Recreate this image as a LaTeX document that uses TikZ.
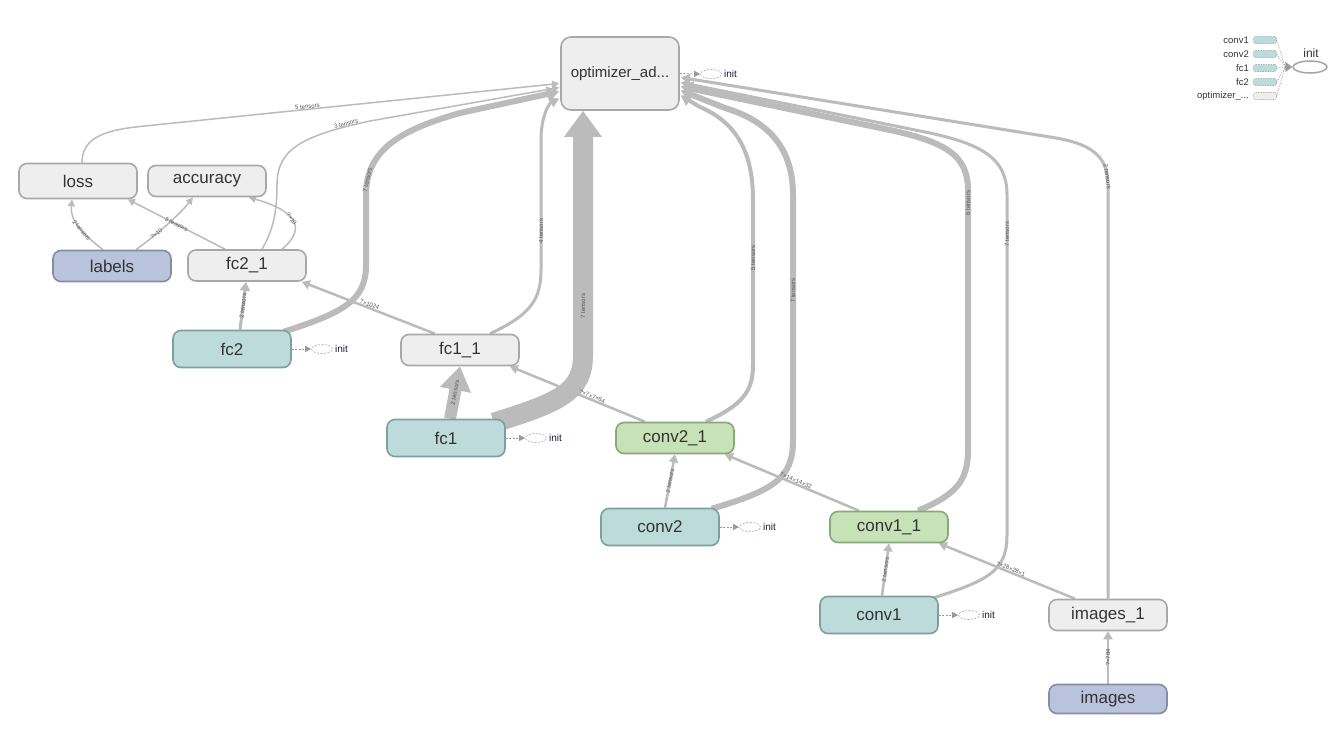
\documentclass[tikz,border=0pt]{standalone}
\usepackage{fontspec}
\setmainfont{Liberation Sans}
\usetikzlibrary{arrows.meta,calc,shapes.geometric,backgrounds}

\definecolor{opfill}{HTML}{EEEEEE}
\definecolor{opline}{HTML}{A8A8A8}
\definecolor{metafill}{HTML}{BDDBDB}
\definecolor{metaline}{HTML}{7F9E9E}
\definecolor{grnfill}{HTML}{C7E2B7}
\definecolor{grnline}{HTML}{88A77A}
\definecolor{bluefill}{HTML}{B9C3DC}
\definecolor{blueline}{HTML}{858DA6}
\definecolor{edgecol}{HTML}{BBBBBB}
\definecolor{txt}{HTML}{333333}
\definecolor{lbltxt}{HTML}{555555}
\definecolor{inittxt}{HTML}{1E1E3C}

\tikzset{
  box/.style={rounded corners=8pt, line width=1.6pt, minimum width=118pt,
    minimum height=31pt, inner sep=0pt, font=\fontsize{17}{17}\selectfont, text=txt},
  opnode/.style={box, fill=opfill, draw=opline},
  metanode/.style={box, fill=metafill, draw=metaline, minimum height=37pt},
  grnnode/.style={box, fill=grnfill, draw=grnline},
  bluenode/.style={box, fill=bluefill, draw=blueline},
  eA/.style={draw=edgecol, line width=1.5pt, -{Triangle[length=7pt,width=7pt]}},
  eB/.style={draw=edgecol, line width=2.5pt, -{Triangle[length=8pt,width=9pt]}},
  eC/.style={draw=edgecol, line width=3pt, -{Triangle[length=9pt,width=10pt]}},
  eD/.style={draw=edgecol, line width=4pt, -{Triangle[length=10pt,width=12pt]}},
  eE/.style={draw=edgecol, line width=6pt, -{Triangle[length=12pt,width=15pt]}},
  eF/.style={draw=edgecol, line width=12pt, -{Triangle[length=24pt,width=30pt]}},
  eG/.style={draw=edgecol, line width=20pt, -{Triangle[length=26pt,width=36pt]}},
  lbl/.style={font=\fontsize{6}{6}\selectfont, text=lbltxt, sloped, inner sep=1pt},
  initell/.style={ellipse, draw=black!30, line width=0.7pt, dash pattern=on 2pt off 1.5pt,
    minimum width=21pt, minimum height=9pt, inner sep=0pt},
  initarr/.style={draw=black!40, line width=0.8pt, dash pattern=on 2pt off 1.5pt,
    -{Triangle[length=6pt,width=6pt]}},
  inittext/.style={anchor=west, font=\fontsize{10}{10}\selectfont, text=inittxt, inner sep=0pt},
  legtext/.style={anchor=east, font=\fontsize{9.5}{9.5}\selectfont, text=txt, inner sep=0pt},
  legbox/.style={rounded corners=2pt, line width=0.6pt, dash pattern=on 1.5pt off 1pt,
    minimum width=23pt, minimum height=7pt, inner sep=0pt},
  legline/.style={draw=black!35, line width=0.8pt, dash pattern=on 1pt off 1.5pt},
}

\begin{document}
\begin{tikzpicture}[x=1pt,y=-1pt]
\useasboundingbox (0,0) rectangle (1341,750);

% ---- operation nodes
\node[opnode, minimum height=73pt, rounded corners=10pt, font=\fontsize{15}{15}\selectfont]
  (optA) at (620,73.5) {optimizer\_ad...};
\node[opnode, minimum height=35pt] (loss) at (78,181) {loss};
\node[opnode] (acc) at (207,181) {accuracy};
\node[bluenode] (labels) at (112,266) {labels};
\node[opnode] (fc2x) at (247,265.5) {fc2\_1};
\node[metanode] (fc2) at (232,349) {fc2};
\node[opnode] (fc1x) at (460,350) {fc1\_1};
\node[metanode] (fc1) at (446,438) {fc1};
\node[grnnode] (conv2x) at (675,438) {conv2\_1};
\node[metanode] (conv2) at (660,527) {conv2};
\node[grnnode] (conv1x) at (889,527) {conv1\_1};
\node[metanode] (conv1) at (879,615) {conv1};
\node[opnode] (imgx) at (1108,615) {images\_1};
\node[bluenode, minimum height=29pt] (img) at (1108,699) {images};

% ---- init markers beside the variable scopes
\foreach \n/\x/\y in {optA/711/74, fc2/322/349, fc1/536/438, conv2/750/527, conv1/969/615}{
  \node[initell] (\n init) at (\x,\y) {};
  \node[inittext] (\n initlbl) at ($(\n init.east)+(2,0)$) {init};
  \draw[initarr] (\n.east) -- (\n init.west);
}

% ---- legend of the init dependencies
\node[legtext] (lt1) at (1249,40) {conv1};
\node[legtext] (lt2) at (1249,54) {conv2};
\node[legtext] (lt3) at (1249,68) {fc1};
\node[legtext] (lt4) at (1249,82) {fc2};
\node[legtext] (lt5) at (1249,96) {optimizer\_...};
\node[legbox, fill=metafill, draw=metaline!70] (lb1) at (1265,40) {};
\node[legbox, fill=metafill, draw=metaline!70] (lb2) at (1265,54) {};
\node[legbox, fill=metafill, draw=metaline!70] (lb3) at (1265,68) {};
\node[legbox, fill=metafill, draw=metaline!70] (lb4) at (1265,82) {};
\node[legbox, fill=opfill, draw=opline!80] (lb5) at (1265,96) {};
\node[ellipse, draw=black!35, line width=1.5pt, minimum width=34pt, minimum height=12pt,
  inner sep=0pt] (leginit) at (1310,67) {};
\node[font=\fontsize{12}{12}\selectfont, text=txt, inner sep=0pt] (leginitlbl) at (1311,53) {init};
\coordinate (legtip) at (1285,67);
\foreach \i in {1,...,5}{ \draw[legline] (lb\i.east) -- (legtip); }
\draw[draw=black!40, line width=1pt, -{Triangle[length=7pt,width=10pt]}] (legtip) -- (leginit.west);

\begin{scope}[on background layer]
\fill[white] (0,0) rectangle (1341,750);

% ---- edges into the optimizer, left side
\draw[eA] ($(loss.north)+(4,0)$) .. controls (82,140) and (100,130.6) .. (140,126.5)
  -- node[lbl,pos=.4,above=-1pt]{5 tensors} ($(optA.west)+(-1,10)$);
\draw[eA] ($(fc2x.north)+(15,0)$) .. controls (272,232) and (277,215) .. (277,185)
  .. controls (277,150) and (300,136) .. node[lbl,pos=.88,above=-1pt]{3 tensors} (370,121)
  -- ($(optA.west)+(-1,14)$);
\draw[eE] ($(fc2.north east)+(-8,2)$) .. controls (345,312) and (366,300) .. (366,265)
  -- (366,195) .. controls (366,150) and (400,130) .. node[lbl,pos=.12]{7 tensors} (460,113)
  -- ($(optA.west)+(-1,18)$);
\draw[eC] ($(fc1x.north)+(30,0)$) .. controls (530,315) and (541,300) .. (541,270)
  -- node[lbl,pos=.3]{4 tensors} (541,140) .. controls (541,118) and (548,104) .. ($(optA.west)+(-1,25)$);
\draw[eG] ($(fc1.north east)+(-12,4)$) .. controls (560,402) and (583,392) .. (583,355)
  -- node[lbl,pos=.2]{7 tensors} ($(optA.south)+(-37,0)$);

% ---- edges into the optimizer, right side
\draw[eD] ($(conv2x.north)+(31,0)$) .. controls (742,405) and (753,392) .. (753,365)
  -- node[lbl,pos=.65]{5 tensors} (753,200) .. controls (753,150) and (735,122) .. (700,107)
  -- ($(optA.east)+(1,22)$);
\draw[eE] ($(conv2.north east)+(-8,1)$) .. controls (775,490) and (793,478) .. (793,440)
  -- node[lbl,pos=.61]{7 tensors} (793,195) .. controls (793,145) and (765,120) .. (725,108)
  -- ($(optA.east)+(1,17)$);
\draw[eE] ($(conv1x.north)+(29,0)$) .. controls (955,495) and (968,482) .. (968,450)
  -- node[lbl,pos=.95]{6 tensors} (968,190) .. controls (968,155) and (945,142) .. (890,130)
  -- ($(optA.east)+(1,13)$);
\draw[eC] ($(conv1.north east)+(-5,2)$) .. controls (990,580) and (1007,570) .. (1007,535)
  -- node[lbl,pos=.885]{7 tensors} (1007,195) .. controls (1007,160) and (985,145) .. (930,133)
  -- ($(optA.east)+(1,9)$);
\draw[eC] (imgx.north) -- (1108,185) .. controls (1108,155) and (1090,143) ..
  node[lbl,pos=.1]{2 tensors} (1050,137) -- ($(optA.east)+(1,4)$);

% ---- data flow between the layers
\draw[eC] ($(fc2.north)+(8,0)$) -- node[lbl]{2 tensors} ($(fc2x.south)+(-1,0)$);
\draw[eB] ($(fc1x.north)+(-25,0)$) -- node[lbl,pos=.5,above=-1pt]{?×1024} ($(fc2x.south east)+(-5,0)$);
\draw[eF] ($(fc1.north)+(4,0)$) -- node[lbl]{2 tensors} (fc1x.south);
\draw[eB] ($(conv2x.north)+(-30,0)$) -- node[lbl,pos=.4,above=-1pt]{?×7×7×64} ($(fc1x.south east)+(-10,0)$);
\draw[eB] ($(conv2.north)+(5,0)$) -- node[lbl]{2 tensors} (conv2x.south);
\draw[eB] ($(conv1x.north)+(-30,0)$) -- node[lbl,pos=.48,above=-1pt]{?×14×14×32} ($(conv2x.south east)+(-10,0)$);
\draw[eB] ($(conv1.north)+(3,0)$) -- node[lbl]{2 tensors} (conv1x.south);
\draw[eB] ($(imgx.north)+(-33,0)$) -- node[lbl,pos=.48,above=-1pt]{?×28×28×1} ($(conv1x.south east)+(-10,0)$);
\draw[eB] (img.north) -- node[lbl]{?×784} (imgx.south);

% ---- edges into loss and accuracy
\draw[eA] ($(labels.north)+(-9,0)$) .. controls (80,232) and (70,220) .. node[lbl,pos=.4]{2 tensors} ($(loss.south)+(-6,0)$);
\draw[eA] ($(labels.north)+(24,0)$) .. controls (160,232) and (180,214) .. node[lbl,pos=.3]{?×10} ($(acc.south)+(-14,0)$);
\draw[eA] ($(fc2x.north)+(-22,0)$) -- node[lbl,pos=.5]{3 tensors} ($(loss.south east)+(-10,0)$);
\draw[eA] ($(fc2x.north)+(35,0)$) .. controls (305,230) and (300,212) .. node[lbl,pos=.55]{?×10} ($(acc.south east)+(-18,0)$);
\end{scope}
\end{tikzpicture}
\end{document}
